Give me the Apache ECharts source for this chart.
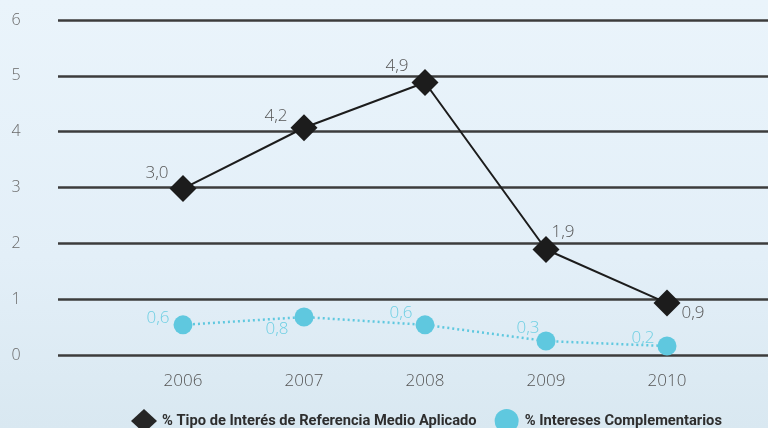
<!DOCTYPE html>
<html><head><meta charset="utf-8">
<script src="https://cdn.jsdelivr.net/npm/echarts@6/dist/echarts.min.js"></script>
<style>
html,body{margin:0;padding:0;}
#c{width:768px;height:428px;background:linear-gradient(180deg,#eaf4fb 0%,#e3eff8 60%,#d9e8f1 100%);}
</style></head>
<body><div id="c"></div>
<script>
const categories = ['2006','2007','2008','2009','2010'];
const tipoValues = [2.98, 4.07, 4.88, 1.89, 0.93];
const tipoLabels = ['3,0','4,2','4,9','1,9','0,9'];
const complValues = [0.54, 0.68, 0.54, 0.25, 0.16];
const complLabels = ['0,6','0,8','0,6','0,3','0,2'];
const yTicks = [0,1,2,3,4,5,6];
const seriesNames = ['% Tipo de Interés de Referencia Medio Aplicado','% Intereses Complementarios'];

const tipoOffsets = [[-26,-15],[-28,-12],[-28,-16],[17,-17],[26,10]];
const complOffsets = [[-25,-7],[-27,12],[-24,-12],[-18,-13],[-24,-8]];

const chart = echarts.init(document.getElementById('c'), null, {renderer:'canvas'});
const labelFont = {fontFamily:'Open Sans', fontSize:17, fontWeight:300};

chart.setOption({
  animation:false,
  grid:[
    {left:58, right:0, top:20, bottom:73},
    {left:122.5, right:40.5, top:20, bottom:73}
  ],
  xAxis:[
    {gridIndex:0, type:'value', show:false, min:0, max:1},
    {gridIndex:1, type:'category', data:categories, boundaryGap:true,
     axisLine:{show:false}, axisTick:{show:false},
     axisLabel:{color:'#555', fontSize:17, fontFamily:'Open Sans', fontWeight:300, margin:18}}
  ],
  yAxis:[
    {gridIndex:0, type:'value', min:yTicks[0], max:yTicks[yTicks.length-1], interval:1,
     axisLine:{show:false}, axisTick:{show:false},
     axisLabel:{color:'#6a6a6a', fontSize:16, fontFamily:'Open Sans', fontWeight:300, margin:42, align:'center',
       padding:[4,0,0,0], formatter:v=>String(v)},
     splitLine:{lineStyle:{color:'#3c3c3c', width:2.5}}},
    {gridIndex:1, type:'value', min:yTicks[0], max:yTicks[yTicks.length-1], interval:1, show:false,
     splitLine:{show:false}}
  ],
  legend:{
    left:126, top:404, itemWidth:26, itemHeight:24, itemGap:18,
    textStyle:{fontFamily:'Roboto', fontWeight:'bold', fontSize:14.7, color:'#2e2e2e'},
    data:[{name:seriesNames[0], icon:'diamond', itemStyle:{color:'#262626'}},
          {name:seriesNames[1], icon:'circle', itemStyle:{color:'#5fc8df'}}]
  },
  series:[
    {name:seriesNames[1], type:'line', xAxisIndex:1, yAxisIndex:1,
     symbol:'circle', symbolSize:19,
     itemStyle:{color:'#5fc8df'},
     lineStyle:{color:'#5fc8df', width:2.5, type:[2,3]},
     data:complValues.map((v,i)=>({value:v, label:{offset:complOffsets[i]}})),
     label:{show:true, position:'inside', color:'#6fcfe3', ...labelFont,
       formatter:p=>complLabels[p.dataIndex]}},
    {name:seriesNames[0], type:'line', xAxisIndex:1, yAxisIndex:1,
     symbol:'diamond', symbolSize:[27,27],
     itemStyle:{color:'#1c1c1c'},
     lineStyle:{color:'#1c1c1c', width:2},
     data:tipoValues.map((v,i)=>({value:v, label:{offset:tipoOffsets[i]}})),
     label:{show:true, position:'inside', color:'#555', ...labelFont,
       formatter:p=>tipoLabels[p.dataIndex]}}
  ]
});
</script></body></html>
